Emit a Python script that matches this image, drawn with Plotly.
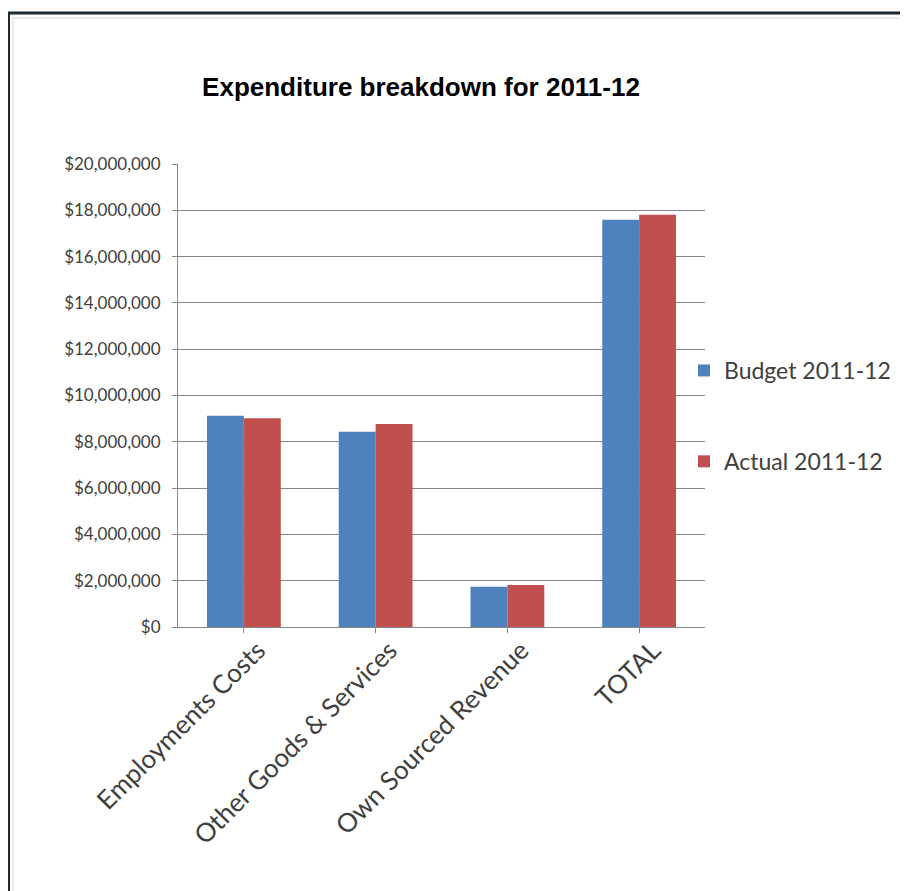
import plotly.graph_objects as go

categories = ["Employments Costs", "Other Goods & Services", "Own Sourced Revenue", "TOTAL"]
budget_2011_12 = [9130000, 8430000, 1740000, 17590000]
actual_2011_12 = [9020000, 8770000, 1810000, 17810000]
series_names = ["Budget 2011-12", "Actual 2011-12"]
y_tick_values = [0, 2000000, 4000000, 6000000, 8000000, 10000000, 12000000, 14000000, 16000000, 18000000, 20000000]
y_tick_labels = ["$0", "$2,000,000", "$4,000,000", "$6,000,000", "$8,000,000", "$10,000,000",
                 "$12,000,000", "$14,000,000", "$16,000,000", "$18,000,000", "$20,000,000"]

W, H = 900, 883
OFF = 8  # page body margin
L, R, T, B = 178 - OFF, 705 - OFF, 164 - OFF, 627 - OFF

fig = go.Figure()
fig.add_trace(go.Bar(x=categories, y=budget_2011_12, name=series_names[0],
                     marker=dict(color="#4F81BD", line=dict(width=0)), legendgroup="a"))
fig.add_trace(go.Bar(x=categories, y=actual_2011_12, name=series_names[1],
                     marker=dict(color="#C0504D", line=dict(width=0)), legendgroup="b"))

pw = R - L
ph = B - T
def px_x(x):
    return (x - OFF - L) / pw
def px_y(y):
    return (B - (y - OFF)) / ph

fig.update_layout(
    width=W, height=H,
    margin=dict(l=L, r=W - R, t=T, b=H - B, pad=0, autoexpand=False),
    paper_bgcolor="white", plot_bgcolor="white",
    barmode="group", bargap=0.44, bargroupgap=0,
    font=dict(family="Lato, Carlito, sans-serif", color="#404040", size=17),
    title=dict(text="<b>Expenditure breakdown for 2011-12</b>",
               font=dict(family="Liberation Sans, Arial, sans-serif", size=26, color="#000000"),
               x=(421 - OFF) / W, xanchor="center", y=1 - (87 - OFF) / H, yanchor="middle"),
    xaxis=dict(showline=True, linecolor="#868686", linewidth=1, ticks="outside",
               tickcolor="#868686", ticklen=5, tickangle=-45, showgrid=False,
               ticklabelshift=14, ticklabelstandoff=-8, automargin=False,
               tickfont=dict(size=26, color="#404040"), fixedrange=True),
    yaxis=dict(range=[0, 20000000], tickvals=y_tick_values, ticktext=y_tick_labels,
               showline=True, linecolor="#868686", linewidth=1, ticks="outside",
               tickcolor="#868686", ticklen=5, showgrid=True, gridcolor="#868686",
               ticklabelstandoff=8, automargin=False,
               gridwidth=1, zeroline=False, tickfont=dict(size=17, color="#404040")),
    legend=dict(x=px_x(684), y=px_y(349), xanchor="left", yanchor="top",
                traceorder="grouped", tracegroupgap=58, itemwidth=30,
                font=dict(size=23, color="#404040"), bgcolor="rgba(0,0,0,0)"),
    shapes=[
        dict(type="line", xref="paper", yref="paper", x0=px_x(8), x1=px_x(W + 20), y0=px_y(13), y1=px_y(13),
             line=dict(color="#1c2a33", width=3)),
        dict(type="line", xref="paper", yref="paper", x0=px_x(9), x1=px_x(9), y0=px_y(13), y1=px_y(H + 20),
             line=dict(color="#1c2a33", width=2)),
        dict(type="line", xref="paper", yref="paper", x0=px_x(12), x1=px_x(W + 20), y0=px_y(18), y1=px_y(18),
             line=dict(color="#d9d9d9", width=1)),
        dict(type="line", xref="paper", yref="paper", x0=px_x(13), x1=px_x(13), y0=px_y(18), y1=px_y(H + 20),
             line=dict(color="#d9d9d9", width=1)),
    ],
)

fig.write_html("out.html")
